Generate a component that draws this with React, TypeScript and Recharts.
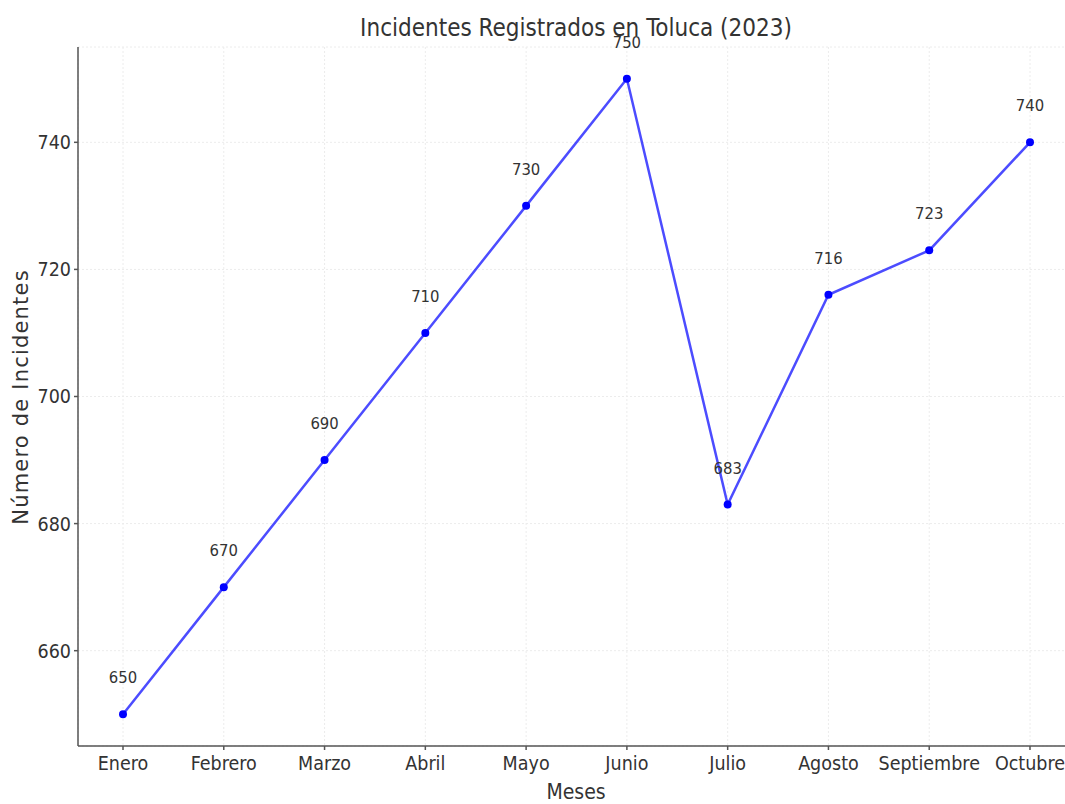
import React from 'react';
import { LineChart, Line, XAxis, YAxis, CartesianGrid, LabelList } from 'recharts';

const months = ['Enero', 'Febrero', 'Marzo', 'Abril', 'Mayo', 'Junio', 'Julio', 'Agosto', 'Septiembre', 'Octubre'];
const incidents = [650, 670, 690, 710, 730, 750, 683, 716, 723, 740];
const yTicks = [660, 680, 700, 720, 740];

const data = months.map((m, i) => ({ mes: m, incidentes: incidents[i] }));

const FONT = '"DejaVu Sans Condensed", "DejaVu Sans", sans-serif';

const renderLabel = (props: any) => {
  const { x, y, value } = props;
  return (
    <text x={x} y={y - 31} textAnchor="middle" fontSize={16.5} fill="#333" fontFamily={FONT}>
      {value}
    </text>
  );
};

const renderYLabel = () => (
  <text
    x={21}
    y={397}
    transform="rotate(-90 21 397)"
    textAnchor="middle"
    dominantBaseline="central"
    fontSize={21}
    letterSpacing={1.2}
    fill="#333"
    fontFamily='"DejaVu Sans", sans-serif'
  >
    Número de Incidentes
  </text>
);

export default function App() {
  return (
    <div style={{ position: 'absolute', left: 0, top: 0, width: 1065, height: 804, background: '#fff', overflow: 'hidden' }}>
      <div style={{ position: 'absolute', left: 0, top: 13, width: 1152, textAlign: 'center', fontFamily: FONT, fontSize: 24, lineHeight: '30px', color: '#333' }}>
        Incidentes Registrados en Toluca (2023)
      </div>
      <div style={{ position: 'absolute', left: 0, top: 779, width: 1152, textAlign: 'center', fontFamily: FONT, fontSize: 21, lineHeight: '26px', color: '#333' }}>
        Meses
      </div>
      <LineChart width={1065} height={804} data={data} margin={{ top: 47, right: -10, bottom: 28, left: 18 }}>
        <CartesianGrid stroke="#ececec" strokeDasharray="2 2" />
        <XAxis
          dataKey="mes"
          padding={{ left: 45, right: 45 }}
          height={30}
          tickSize={4}
          tickMargin={6}
          stroke="#555"
          strokeWidth={1.5}
          tick={{ fontSize: 19.5, fill: '#333', fontFamily: FONT }}
          interval={0}
        />
        <YAxis
          domain={[645, 755]}
          ticks={yTicks}
          width={60}
          tickSize={4}
          tickMargin={3}
          stroke="#555"
          strokeWidth={1.5}
          tick={{ fontSize: 19.5, fill: '#333', fontFamily: FONT }}
          label={{ content: renderYLabel }}
        />
        <Line
          type="linear"
          dataKey="incidentes"
          stroke="#0000ff"
          strokeOpacity={0.7}
          strokeWidth={2.5}
          dot={{ r: 4, fill: '#0000ff', stroke: '#0000ff', strokeWidth: 0, fillOpacity: 1, strokeOpacity: 1 }}
          isAnimationActive={false}
        >
          <LabelList dataKey="incidentes" content={renderLabel} />
        </Line>
      </LineChart>
    </div>
  );
}
